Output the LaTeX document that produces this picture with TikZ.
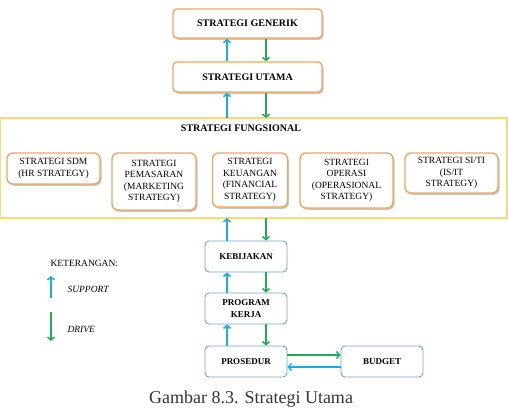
\documentclass[tikz,border=0pt]{standalone}
\usepackage{fontspec}
\setmainfont{Liberation Serif}
\usetikzlibrary{arrows.meta,shadows}

\definecolor{oranye}{RGB}{236,168,98}
\definecolor{kuning}{RGB}{250,218,120}
\definecolor{biru}{RGB}{120,160,205}
\definecolor{panahbiru}{RGB}{30,170,230}
\definecolor{panahhijau}{RGB}{35,170,85}

\begin{document}
\begin{tikzpicture}[x=1pt,y=-1pt,
    utamabox/.style={draw=oranye,line width=1.4pt,fill=white,rounded corners=4pt,
        drop shadow={opacity=0.45,shadow xshift=1.5pt,shadow yshift=-1.8pt},
        font=\fontsize{10}{12}\selectfont\bfseries,inner sep=2pt},
    fungsibox/.style={draw=oranye,line width=1.4pt,fill=white,rounded corners=6pt,
        drop shadow={opacity=0.45,shadow xshift=1.5pt,shadow yshift=-1.8pt},
        align=center,font=\fontsize{9.5}{11.5}\selectfont,inner sep=2pt},
    bawahbox/.style={draw=biru,line width=0.9pt,fill=white,rounded corners=4pt,
        align=center,font=\fontsize{9}{12}\selectfont\bfseries,
        minimum width=82pt,minimum height=31pt,inner sep=2pt},
    support/.style={draw=panahbiru,line width=1.5pt,-{Straight Barb[length=3pt,width=7pt]}},
    drive/.style={draw=panahhijau,line width=1.5pt,-{Straight Barb[length=3pt,width=7pt]}}]

    \useasboundingbox (0,0) rectangle (508,410);

    % kotak strategi atas
    \node[utamabox,minimum width=149pt,minimum height=29pt] (generik) at (247.5,23.5) {STRATEGI GENERIK};
    \node[utamabox,minimum width=149pt,minimum height=30pt] (utama) at (247.5,77) {STRATEGI UTAMA};

    % strategi fungsional
    \draw[draw=kuning,line width=1.4pt] (0.7,118) rectangle (507,218);
    \coordinate (fungsiatas) at (247.5,118);
    \coordinate (fungsibawah) at (247.5,218);
    \node[font=\fontsize{10}{12}\selectfont\bfseries] (fungsional) at (241,128.5) {STRATEGI FUNGSIONAL};

    \node[fungsibox,minimum width=93pt,minimum height=31pt] (sdm) at (53.5,168.5) {STRATEGI SDM\\(HR STRATEGY)};
    \node[fungsibox,minimum width=84pt,minimum height=57pt] (pemasaran) at (154,181.5) {STRATEGI\\PEMASARAN\\(MARKETING\\STRATEGY)};
    \node[fungsibox,minimum width=75pt,minimum height=54pt] (keuangan) at (250,180) {STRATEGI\\KEUANGAN\\(FINANCIAL\\STRATEGY)};
    \node[fungsibox,minimum width=93pt,minimum height=55pt] (operasi) at (346.5,180.5) {STRATEGI\\OPERASI\\(OPERASIONAL\\STRATEGY)};
    \node[fungsibox,minimum width=93pt,minimum height=40pt] (siti) at (451.5,173) {STRATEGI SI/TI\\(IS/IT\\STRATEGY)};

    % kotak bawah
    \node[bawahbox] (kebijakan) at (246,256.5) {KEBIJAKAN};
    \node[bawahbox] (program) at (246,308.5) {PROGRAM\\KERJA};
    \node[bawahbox] (prosedur) at (246,361.5) {PROSEDUR};
    \node[bawahbox] (budget) at (382,361.5) {BUDGET};

    % garis panah
    \coordinate (naik) at (227,0);
    \coordinate (turun) at (266,0);
    \coordinate (kanan) at (0,355);
    \coordinate (kiri) at (0,367);
    \draw[support] (utama.north -| naik) -- (generik.south -| naik);
    \draw[drive] (generik.south -| turun) -- (utama.north -| turun);
    \draw[support] (fungsiatas -| naik) -- (utama.south -| naik);
    \draw[drive] (utama.south -| turun) -- (fungsiatas -| turun);
    \draw[support] (kebijakan.north -| naik) -- (fungsibawah -| naik);
    \draw[drive] (fungsibawah -| turun) -- (kebijakan.north -| turun);
    \draw[support] (program.north -| naik) -- (kebijakan.south -| naik);
    \draw[drive] (kebijakan.south -| turun) -- (program.north -| turun);
    \draw[support] (prosedur.north -| naik) -- (program.south -| naik);
    \draw[drive] (program.south -| turun) -- (prosedur.north -| turun);
    \draw[drive] (prosedur.east |- kanan) -- (budget.west |- kanan);
    \draw[support] (budget.west |- kiri) -- (prosedur.east |- kiri);

    % keterangan
    \node[anchor=west,font=\fontsize{9.5}{12}\selectfont] (keterangan) at (47,263) {KETERANGAN:};
    \coordinate (supA) at (51,298);
    \coordinate (supB) at (51,276);
    \draw[support] (supA) -- (supB);
    \node[anchor=west,font=\fontsize{9.5}{12}\selectfont\itshape] (supportteks) at (64,289) {SUPPORT};
    \coordinate (drvA) at (51,312);
    \coordinate (drvB) at (51,341);
    \draw[drive] (drvA) -- (drvB);
    \node[anchor=west,font=\fontsize{9.5}{12}\selectfont\itshape] (driveteks) at (64,329) {DRIVE};

    \node[font=\fontsize{18}{20}\selectfont,text=black!80] (judul) at (251,399) {Gambar 8.3. Strategi Utama};

\end{tikzpicture}
\end{document}
